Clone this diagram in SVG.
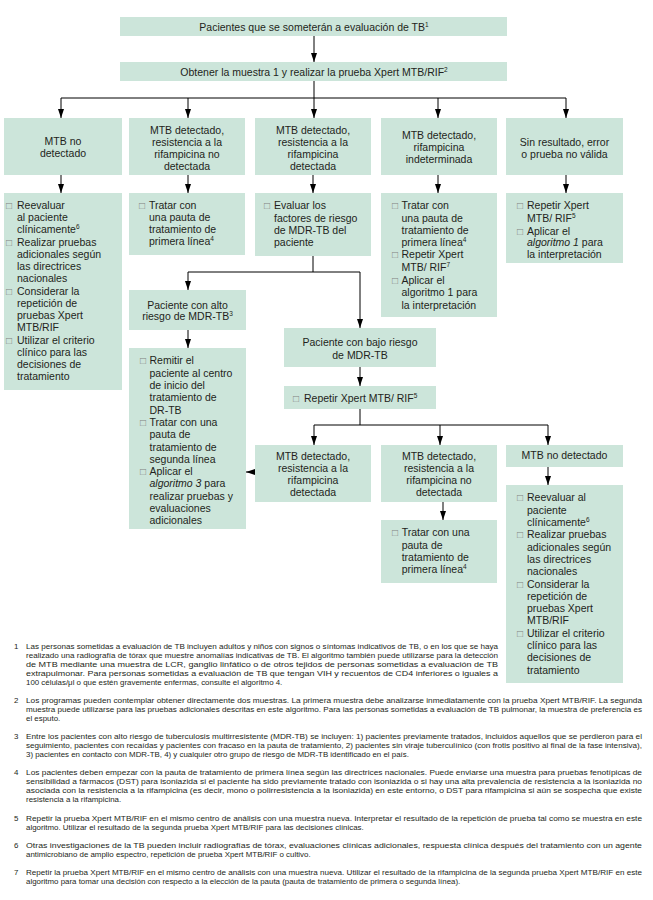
<svg xmlns="http://www.w3.org/2000/svg" width="653" height="900" viewBox="0 0 653 900">
<defs>
<style>
.bx{fill:#cce5da;}
text{font-family:"Liberation Sans",Arial,sans-serif;fill:#231f20;}
.t{font-size:10.5px;}
.c{text-anchor:middle;}
.cb{font-size:10px;fill:#808080;}
.sup{font-size:6.5px;}
.i{font-style:italic;}
.fn{font-size:7.9px;}
.ln{stroke:#000;stroke-width:1;fill:none;}
.ar{marker-end:url(#ah);}
</style>
<marker id="ah" viewBox="0 0 9 6" refX="9" refY="3" markerWidth="9" markerHeight="6" markerUnits="userSpaceOnUse" orient="auto">
<path d="M0,0 L9,3 L0,6 z" fill="#000"/>
</marker>
</defs>
<rect width="653" height="900" fill="#fff"/>

<g id="connectors">
<line class="ln ar" x1="314" y1="36" x2="314" y2="62"/>
<line class="ln" x1="314" y1="81" x2="314" y2="98"/>
<line class="ln" x1="61" y1="98" x2="566" y2="98"/>
<line class="ln ar" x1="61" y1="98" x2="61" y2="118"/>
<line class="ln ar" x1="188" y1="98" x2="188" y2="118"/>
<line class="ln ar" x1="314" y1="98" x2="314" y2="118"/>
<line class="ln ar" x1="438" y1="98" x2="438" y2="118"/>
<line class="ln ar" x1="566" y1="98" x2="566" y2="118"/>
<line class="ln ar" x1="61" y1="175" x2="61" y2="193"/>
<line class="ln ar" x1="188" y1="175" x2="188" y2="193"/>
<line class="ln ar" x1="313" y1="175" x2="313" y2="193"/>
<line class="ln ar" x1="438" y1="175" x2="438" y2="193"/>
<line class="ln ar" x1="566" y1="175" x2="566" y2="193"/>
<line class="ln" x1="313" y1="256" x2="313" y2="272"/>
<line class="ln" x1="188" y1="272" x2="360" y2="272"/>
<line class="ln ar" x1="188" y1="272" x2="188" y2="290"/>
<line class="ln ar" x1="360" y1="272" x2="360" y2="328"/>
<line class="ln ar" x1="188" y1="330" x2="188" y2="348"/>
<line class="ln ar" x1="360" y1="367" x2="360" y2="386"/>
<line class="ln" x1="360" y1="409" x2="360" y2="425"/>
<line class="ln" x1="314" y1="425" x2="548" y2="425"/>
<line class="ln ar" x1="314" y1="425" x2="314" y2="445"/>
<line class="ln ar" x1="440" y1="425" x2="440" y2="445"/>
<line class="ln ar" x1="548" y1="425" x2="548" y2="445"/>
<line class="ln ar" x1="443" y1="502" x2="443" y2="520"/>
<line class="ln ar" x1="548" y1="467" x2="548" y2="485"/>
<line class="ln ar" x1="255" y1="472" x2="246" y2="472"/>
</g>

<g id="n-pacientes">
<rect class="bx" x="120" y="17" width="387" height="19"/>
<text class="t c" x="314" y="30.5">Pacientes que se someterán a evaluación de TB<tspan class="sup" dy="-4">1</tspan></text>
</g>
<g id="n-muestra">
<rect class="bx" x="120" y="62" width="387" height="19"/>
<text class="t c" x="314" y="75.5">Obtener la muestra 1 y realizar la prueba Xpert MTB/RIF<tspan class="sup" dy="-4">2</tspan></text>
</g>

<g id="n-no-detectado">
<rect class="bx" x="4" y="118" width="118" height="57"/>
<text class="t c" x="63" y="144.7">MTB no</text>
<text class="t c" x="63" y="156.7">detectado</text>
</g>
<g id="n-det-no-res">
<rect class="bx" x="129" y="118" width="116" height="57"/>
<text class="t c" x="187" y="133.7">MTB detectado,</text>
<text class="t c" x="187" y="145.7">resistencia a la</text>
<text class="t c" x="187" y="157.7">rifampicina no</text>
<text class="t c" x="187" y="169.7">detectada</text>
</g>
<g id="n-det-res">
<rect class="bx" x="255" y="118" width="116" height="57"/>
<text class="t c" x="313" y="133.7">MTB detectado,</text>
<text class="t c" x="313" y="145.7">resistencia a la</text>
<text class="t c" x="313" y="157.7">rifampicina</text>
<text class="t c" x="313" y="169.7">detectada</text>
</g>
<g id="n-det-indet">
<rect class="bx" x="381" y="118" width="116" height="57"/>
<text class="t c" x="439" y="138.7">MTB detectado,</text>
<text class="t c" x="439" y="150.7">rifampicina</text>
<text class="t c" x="439" y="162.7">indeterminada</text>
</g>
<g id="n-sin-resultado">
<rect class="bx" x="506" y="118" width="117" height="57"/>
<text class="t c" x="564.5" y="145.7">Sin resultado, error</text>
<text class="t c" x="564.5" y="157.7">o prueba no válida</text>
</g>

<g id="n-list1">
<rect class="bx" x="4" y="193" width="118" height="197"/>
<text class="cb" x="6" y="208.7">□</text>
<text class="t" x="17" y="208.7">Reevaluar</text>
<text class="t" x="17" y="221">al paciente</text>
<text class="t" x="17" y="233.2">clínicamente<tspan class="sup" dy="-4">6</tspan></text>
<text class="cb" x="6" y="245.5">□</text>
<text class="t" x="17" y="245.5">Realizar pruebas</text>
<text class="t" x="17" y="257.7">adicionales según</text>
<text class="t" x="17" y="270">las directrices</text>
<text class="t" x="17" y="282.3">nacionales</text>
<text class="cb" x="6" y="294.5">□</text>
<text class="t" x="17" y="294.5">Considerar la</text>
<text class="t" x="17" y="306.8">repetición de</text>
<text class="t" x="17" y="319">pruebas Xpert</text>
<text class="t" x="17" y="331.3">MTB/RIF</text>
<text class="cb" x="6" y="343.6">□</text>
<text class="t" x="17" y="343.6">Utilizar el criterio</text>
<text class="t" x="17" y="355.8">clínico para las</text>
<text class="t" x="17" y="368.1">decisiones de</text>
<text class="t" x="17" y="380.3">tratamiento</text>
</g>

<g id="n-list2">
<rect class="bx" x="129" y="193" width="116" height="62"/>
<text class="cb" x="139" y="209">□</text>
<text class="t" x="149" y="209">Tratar con</text>
<text class="t" x="149" y="221.2">una pauta de</text>
<text class="t" x="149" y="233.2">tratamiento de</text>
<text class="t" x="149" y="245.2">primera línea<tspan class="sup" dy="-4">4</tspan></text>
</g>

<g id="n-list3">
<rect class="bx" x="255" y="193" width="116" height="63"/>
<text class="cb" x="264" y="209.4">□</text>
<text class="t" x="274" y="209.4">Evaluar los</text>
<text class="t" x="274" y="221.7">factores de riesgo</text>
<text class="t" x="274" y="233.7">de MDR-TB del</text>
<text class="t" x="274" y="245.7">paciente</text>
</g>

<g id="n-list4">
<rect class="bx" x="381" y="193" width="116" height="124"/>
<text class="cb" x="392" y="209.4">□</text>
<text class="t" x="401.5" y="209.4">Tratar con</text>
<text class="t" x="401.5" y="221.7">una pauta de</text>
<text class="t" x="401.5" y="233.7">tratamiento de</text>
<text class="t" x="401.5" y="245.7">primera línea<tspan class="sup" dy="-4">4</tspan></text>
<text class="cb" x="392" y="258">□</text>
<text class="t" x="401.5" y="258">Repetir Xpert</text>
<text class="t" x="401.5" y="270.5">MTB/ RIF<tspan class="sup" dy="-4">7</tspan></text>
<text class="cb" x="392" y="283.5">□</text>
<text class="t" x="401.5" y="283.5">Aplicar el</text>
<text class="t" x="401.5" y="296">algoritmo 1 para</text>
<text class="t" x="401.5" y="308.5">la interpretación</text>
</g>

<g id="n-list5">
<rect class="bx" x="506" y="193" width="117" height="70"/>
<text class="cb" x="517" y="209.4">□</text>
<text class="t" x="527" y="209.4">Repetir Xpert</text>
<text class="t" x="527" y="221.7">MTB/ RIF<tspan class="sup" dy="-4">5</tspan></text>
<text class="cb" x="517" y="234.5">□</text>
<text class="t" x="527" y="234.5">Aplicar el</text>
<text class="t" x="527" y="246.4"><tspan class="i">algoritmo 1</tspan> para</text>
<text class="t" x="527" y="257.7">la interpretación</text>
</g>

<g id="n-alto">
<rect class="bx" x="129" y="290" width="117" height="40"/>
<text class="t c" x="187.5" y="308.5">Paciente con alto</text>
<text class="t c" x="187.5" y="320">riesgo de MDR-TB<tspan class="sup" dy="-4">3</tspan></text>
</g>

<g id="n-alto-list">
<rect class="bx" x="129" y="348" width="117" height="181"/>
<text class="cb" x="140" y="364.4">□</text>
<text class="t" x="149.5" y="364.4">Remitir el</text>
<text class="t" x="149.5" y="376.7">paciente al centro</text>
<text class="t" x="149.5" y="389">de inicio del</text>
<text class="t" x="149.5" y="401.3">tratamiento de</text>
<text class="t" x="149.5" y="413.6">DR-TB</text>
<text class="cb" x="140" y="425.9">□</text>
<text class="t" x="149.5" y="425.9">Tratar con una</text>
<text class="t" x="149.5" y="438.2">pauta de</text>
<text class="t" x="149.5" y="450.5">tratamiento de</text>
<text class="t" x="149.5" y="462.8">segunda línea</text>
<text class="cb" x="140" y="475.1">□</text>
<text class="t" x="149.5" y="475.1">Aplicar el</text>
<text class="t" x="149.5" y="487.4"><tspan class="i">algoritmo 3</tspan> para</text>
<text class="t" x="149.5" y="499.7">realizar pruebas y</text>
<text class="t" x="149.5" y="512">evaluaciones</text>
<text class="t" x="149.5" y="524.3">adicionales</text>
</g>

<g id="n-bajo">
<rect class="bx" x="284" y="328" width="152" height="39"/>
<text class="t c" x="360" y="346.4">Paciente con bajo riesgo</text>
<text class="t c" x="360" y="358.7">de MDR-TB</text>
</g>

<g id="n-repetir">
<rect class="bx" x="284" y="386" width="152" height="23"/>
<text class="cb" x="293" y="402">□</text>
<text class="t" x="304" y="402">Repetir Xpert MTB/ RIF<tspan class="sup" dy="-4">5</tspan></text>
</g>

<g id="n-r-det-res">
<rect class="bx" x="255" y="445" width="116" height="57"/>
<text class="t c" x="313" y="460.2">MTB detectado,</text>
<text class="t c" x="313" y="472.2">resistencia a la</text>
<text class="t c" x="313" y="484.2">rifampicina</text>
<text class="t c" x="313" y="496.2">detectada</text>
</g>
<g id="n-r-det-no-res">
<rect class="bx" x="381" y="445" width="116" height="57"/>
<text class="t c" x="439" y="460.2">MTB detectado,</text>
<text class="t c" x="439" y="472.2">resistencia a la</text>
<text class="t c" x="439" y="484.2">rifampicina no</text>
<text class="t c" x="439" y="496.2">detectada</text>
</g>
<g id="n-r-no-det">
<rect class="bx" x="506" y="445" width="117" height="22"/>
<text class="t c" x="564.5" y="459">MTB no detectado</text>
</g>

<g id="n-r-list-b">
<rect class="bx" x="381" y="520" width="116" height="63"/>
<text class="cb" x="392" y="536.4">□</text>
<text class="t" x="401.7" y="536.4">Tratar con una</text>
<text class="t" x="401.7" y="548.7">pauta de</text>
<text class="t" x="401.7" y="560.7">tratamiento de</text>
<text class="t" x="401.7" y="572.7">primera línea<tspan class="sup" dy="-4">4</tspan></text>
</g>

<g id="n-r-list-c">
<rect class="bx" x="506" y="485" width="117" height="198"/>
<text class="cb" x="517" y="501.4">□</text>
<text class="t" x="527" y="501.4">Reevaluar al</text>
<text class="t" x="527" y="513.7">paciente</text>
<text class="t" x="527" y="526">clínicamente<tspan class="sup" dy="-4">6</tspan></text>
<text class="cb" x="517" y="538.3">□</text>
<text class="t" x="527" y="538.3">Realizar pruebas</text>
<text class="t" x="527" y="550.6">adicionales según</text>
<text class="t" x="527" y="562.9">las directrices</text>
<text class="t" x="527" y="575.2">nacionales</text>
<text class="cb" x="517" y="587.5">□</text>
<text class="t" x="527" y="587.5">Considerar la</text>
<text class="t" x="527" y="599.8">repetición de</text>
<text class="t" x="527" y="612.1">pruebas Xpert</text>
<text class="t" x="527" y="624.4">MTB/RIF</text>
<text class="cb" x="517" y="636.7">□</text>
<text class="t" x="527" y="636.7">Utilizar el criterio</text>
<text class="t" x="527" y="649">clínico para las</text>
<text class="t" x="527" y="661.3">decisiones de</text>
<text class="t" x="527" y="673.6">tratamiento</text>
</g>

<g id="footnotes">
<text class="fn" x="14" y="648.7">1</text>
<text class="fn" x="26" y="648.7" textLength="472" lengthAdjust="spacingAndGlyphs">Las personas sometidas a evaluación de TB incluyen adultos y niños con signos o síntomas indicativos de TB, o en los que se haya</text>
<text class="fn" x="26" y="657.7" textLength="472" lengthAdjust="spacingAndGlyphs">realizado una radiografía de tórax que muestre anomalías indicativas de TB. El algoritmo también puede utilizarse para la detección</text>
<text class="fn" x="26" y="666.8" textLength="472" lengthAdjust="spacingAndGlyphs">de MTB mediante una muestra de LCR, ganglio linfático o de otros tejidos de personas sometidas a evaluación de TB</text>
<text class="fn" x="26" y="675.8" textLength="472" lengthAdjust="spacingAndGlyphs">extrapulmonar. Para personas sometidas a evaluación de TB que tengan VIH y recuentos de CD4 inferiores o iguales a</text>
<text class="fn" x="26" y="684.9">100 células/μl o que estén gravemente enfermas, consulte el algoritmo 4.</text>

<text class="fn" x="14" y="702.9">2</text>
<text class="fn" x="26" y="702.9" textLength="616" lengthAdjust="spacingAndGlyphs">Los programas pueden contemplar obtener directamente dos muestras. La primera muestra debe analizarse inmediatamente con la prueba Xpert MTB/RIF. La segunda</text>
<text class="fn" x="26" y="712" textLength="616" lengthAdjust="spacingAndGlyphs">muestra puede utilizarse para las pruebas adicionales descritas en este algoritmo. Para las personas sometidas a evaluación de TB pulmonar, la muestra de preferencia es</text>
<text class="fn" x="26" y="721">el esputo.</text>

<text class="fn" x="14" y="739.1">3</text>
<text class="fn" x="26" y="739.1" textLength="616" lengthAdjust="spacingAndGlyphs">Entre los pacientes con alto riesgo de tuberculosis multirresistente (MDR-TB) se incluyen: 1) pacientes previamente tratados, incluidos aquellos que se perdieron para el</text>
<text class="fn" x="26" y="748.1" textLength="616" lengthAdjust="spacingAndGlyphs">seguimiento, pacientes con recaídas y pacientes con fracaso en la pauta de tratamiento, 2) pacientes sin viraje tuberculínico (con frotis positivo al final de la fase intensiva),</text>
<text class="fn" x="26" y="757.2">3) pacientes en contacto con MDR-TB, 4) y cualquier otro grupo de riesgo de MDR-TB identificado en el país.</text>

<text class="fn" x="14" y="775.3">4</text>
<text class="fn" x="26" y="775.3" textLength="616" lengthAdjust="spacingAndGlyphs">Los pacientes deben empezar con la pauta de tratamiento de primera línea según las directrices nacionales. Puede enviarse una muestra para pruebas fenotípicas de</text>
<text class="fn" x="26" y="784.3" textLength="616" lengthAdjust="spacingAndGlyphs">sensibilidad a fármacos (DST) para isoniazida si el paciente ha sido previamente tratado con isoniazida o si hay una alta prevalencia de resistencia a la isoniazida no</text>
<text class="fn" x="26" y="793.4" textLength="616" lengthAdjust="spacingAndGlyphs">asociada con la resistencia a la rifampicina (es decir, mono o polirresistencia a la isoniazida) en este entorno, o DST para rifampicina si aún se sospecha que existe</text>
<text class="fn" x="26" y="802.4">resistencia a la rifampicina.</text>

<text class="fn" x="14" y="820.5">5</text>
<text class="fn" x="26" y="820.5" textLength="616" lengthAdjust="spacingAndGlyphs">Repetir la prueba Xpert MTB/RIF en el mismo centro de análisis con una muestra nueva. Interpretar el resultado de la repetición de prueba tal como se muestra en este</text>
<text class="fn" x="26" y="829.5">algoritmo. Utilizar el resultado de la segunda prueba Xpert MTB/RIF para las decisiones clínicas.</text>

<text class="fn" x="14" y="847.6">6</text>
<text class="fn" x="26" y="847.6" textLength="616" lengthAdjust="spacingAndGlyphs">Otras investigaciones de la TB pueden incluir radiografías de tórax, evaluaciones clínicas adicionales, respuesta clínica después del tratamiento con un agente</text>
<text class="fn" x="26" y="856.6">antimicrobiano de amplio espectro, repetición de prueba Xpert MTB/RIF o cultivo.</text>

<text class="fn" x="14" y="874.7">7</text>
<text class="fn" x="26" y="874.7" textLength="616" lengthAdjust="spacingAndGlyphs">Repetir la prueba Xpert MTB/RIF en el mismo centro de análisis con una muestra nueva. Utilizar el resultado de la rifampicina de la segunda prueba Xpert MTB/RIF en este</text>
<text class="fn" x="26" y="883.7">algoritmo para tomar una decisión con respecto a la elección de la pauta (pauta de tratamiento de primera o segunda línea).</text>
</g>
</svg>
